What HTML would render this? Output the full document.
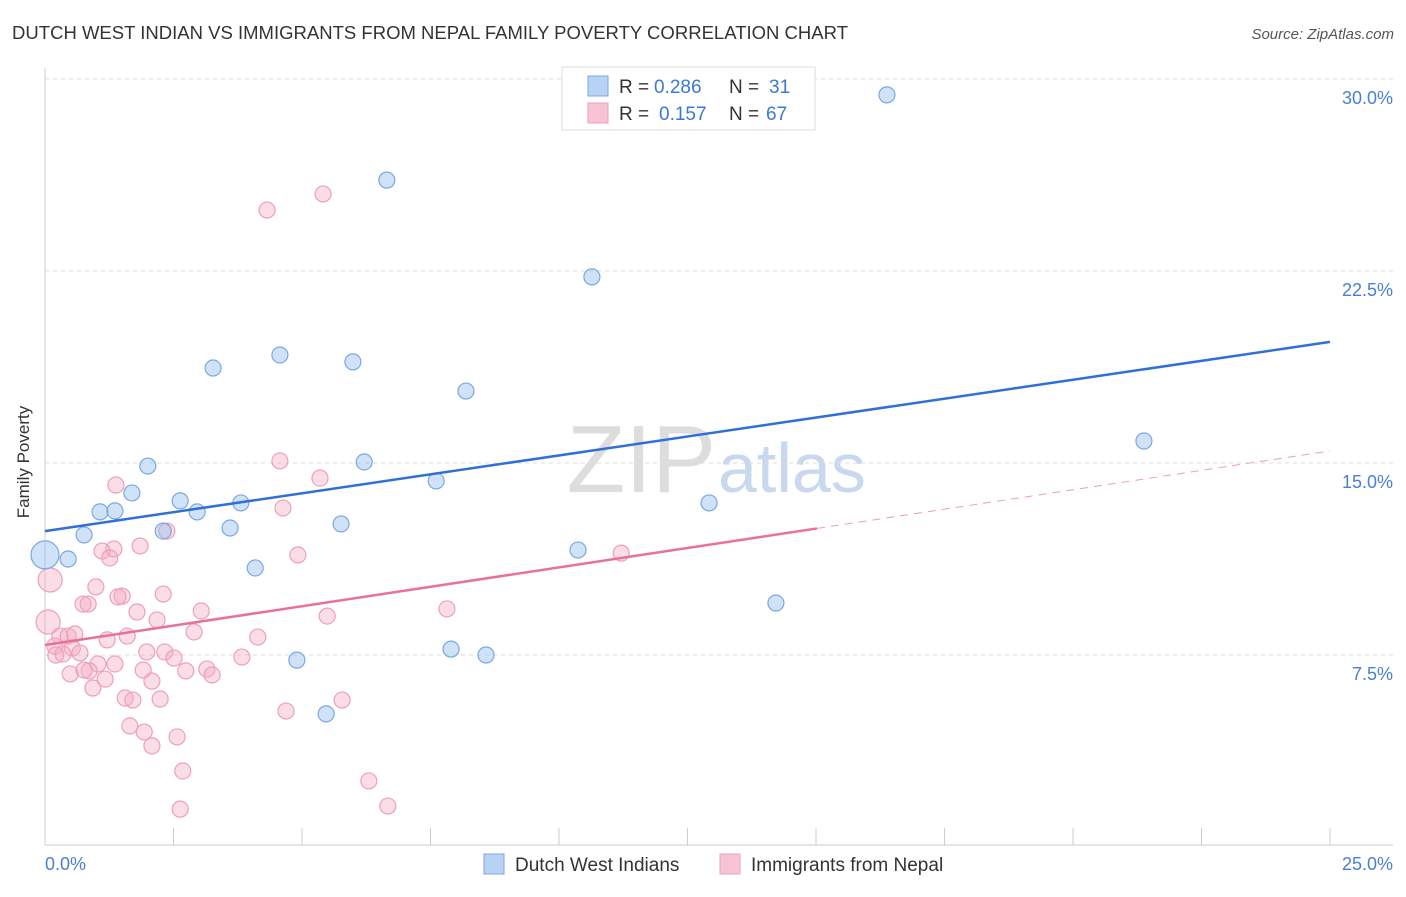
<!DOCTYPE html>
<html><head><meta charset="utf-8"><style>
body{margin:0;background:#fff;font-family:"Liberation Sans",sans-serif;}
svg text{font-family:"Liberation Sans",sans-serif;}
</style></head><body>
<svg id="c" width="1406" height="892" xmlns="http://www.w3.org/2000/svg">
<text x="12" y="39" font-size="18.5" fill="#333" textLength="836">DUTCH WEST INDIAN VS IMMIGRANTS FROM NEPAL FAMILY POVERTY CORRELATION CHART</text>
<text x="1394" y="39" font-size="15" fill="#555" font-style="italic" text-anchor="end">Source: ZipAtlas.com</text>
<text x="24" y="457" font-size="17" fill="#333" text-anchor="middle" transform="rotate(-90 29 457)">Family Poverty</text>
<text x="716" y="492" font-size="96" fill="#ddd" text-anchor="end" font-family="Liberation Serif">ZIP</text>
<text x="718" y="492" font-size="70" fill="#c8d8ee">atlas</text>
<g id="grid"></g><g id="axes"></g><g id="pts"></g><g id="lines"></g>
<g>
<rect x="562" y="67" width="253" height="63" fill="#fff" stroke="#ddd"/>
<rect x="588" y="76" width="20" height="20" fill="#b8d3f3" stroke="#7aa8e0"/>
<rect x="588" y="103" width="20" height="20" fill="#f8c4d5" stroke="#eda0b8"/>
<text x="619" y="93" font-size="19" fill="#333">R =</text>
<text x="654" y="93" font-size="19" fill="#3a78d8">0.286</text>
<text x="729" y="93" font-size="19" fill="#333">N =</text>
<text x="769" y="93" font-size="19" fill="#3a78d8">31</text>
<text x="619" y="120" font-size="19" fill="#333">R =</text>
<text x="659" y="120" font-size="19" fill="#3a78d8">0.157</text>
<text x="729" y="120" font-size="19" fill="#333">N =</text>
<text x="766" y="120" font-size="19" fill="#3a78d8">67</text>
</g>
<g>
<rect x="484" y="854" width="20" height="20" fill="#b8d3f3" stroke="#7aa8e0"/>
<text x="515" y="871" font-size="19" fill="#333">Dutch West Indians</text>
<rect x="720" y="854" width="20" height="20" fill="#f8c4d5" stroke="#eda0b8"/>
<text x="751" y="871" font-size="19" fill="#333">Immigrants from Nepal</text>
</g>
</svg>
<script>
const yTicks=[7.5,15,22.5,30];
const yTickLabels=["7.5%","15.0%","22.5%","30.0%"];
const xTickLabels=["0.0%","25.0%"];
const blueX=[16.38,6.65,10.64,4.57,3.27,5.99,8.19,21.38,2.00,6.21,7.61,1.69,2.63,3.81,1.07,1.36,2.96,12.92,5.76,3.60,2.30,0.76,0.45,0,10.37,4.09,14.22,7.90,8.58,4.90,5.47];
const blueY=[29.38,26.05,22.27,19.22,18.71,18.95,17.81,15.86,14.88,15.04,14.30,13.83,13.52,13.44,13.09,13.13,13.09,13.44,12.62,12.46,12.34,12.19,11.25,11.41,11.60,10.90,9.53,7.73,7.50,7.30,5.20];
const pinkX=[5.41,4.32,4.57,1.38,5.35,4.63,2.37,1.85,1.34,1.11,1.26,4.92,11.21,0.10,0.99,2.30,1.50,1.42,0.74,0.84,1.79,3.04,2.18,5.49,7.82,0.06,2.90,1.60,1.21,4.14,0.29,0.45,0.58,0.19,0.53,0.68,0.35,1.98,2.33,2.51,3.83,1.03,2.74,3.15,3.25,1.91,0.86,0.49,1.17,2.08,0.93,1.56,1.71,2.24,5.78,4.69,1.65,1.93,2.57,2.08,2.68,6.30,2.63,6.67,0.76,1.36,0.21];
const pinkY=[25.51,24.88,15.08,14.14,14.41,13.24,12.34,11.76,11.64,11.56,11.29,11.41,11.48,10.43,10.16,9.88,9.80,9.77,9.49,9.49,9.18,9.22,8.87,9.02,9.30,8.79,8.40,8.24,8.09,8.20,8.24,8.24,8.32,7.85,7.77,7.58,7.54,7.62,7.62,7.38,7.42,7.15,6.88,6.95,6.72,6.91,6.88,6.76,6.56,6.48,6.21,5.82,5.74,5.78,5.74,5.31,4.73,4.49,4.30,3.95,2.97,2.58,1.48,1.60,6.91,7.15,7.50];
const blueTrend=[12.34,19.73];
const pinkTrend=[7.89,15.47];
const pinkSolidEnd=15.02;
const NS="http://www.w3.org/2000/svg";
const X=v=>45+v/25*1285, Y=v=>847-v/7.5*192;
function mk(t,a,p){const e=document.createElementNS(NS,t);for(const k in a)e.setAttribute(k,a[k]);document.getElementById(p).appendChild(e);return e;}
yTicks.forEach((t,i)=>{
 const g=mk('line',{x1:45,x2:1393,y1:Y(t),y2:Y(t),stroke:'#ddd','stroke-dasharray':'4,4'},'grid');
 
 
 const l=mk('text',{x:1393,y:Y(t)+25,'font-size':18,fill:'#4a7fd4','text-anchor':'end'},'grid');
 l.textContent=yTickLabels[i];
 
 
});
let a=mk('line',{x1:45,x2:45,y1:68,y2:845,stroke:'#ccc'},'axes');


a=mk('line',{x1:45,x2:1393,y1:845,y2:845,stroke:'#ccc'},'axes');


for(let i=0;i<=10;i++){const t=mk('line',{x1:X(i*2.5),x2:X(i*2.5),y1:828,y2:845,stroke:'#ccc'},'axes');
 
 }
[[0,'start',45],[1,'end',1393]].forEach(([i,an,x])=>{const t=mk('text',{x:x,y:870,'font-size':18,fill:'#4a7fd4','text-anchor':an},'axes');t.textContent=xTickLabels[i];
 
 });
pinkX.forEach((v,i)=>{const r=(v<0.15)?12:8;const c=mk('circle',{cx:X(v),cy:Y(pinkY[i]),r:r,fill:'rgba(245,170,195,0.4)',stroke:'#eda0b8','stroke-width':1.2},'pts');
 
 });
blueX.forEach((v,i)=>{const r=(v===0)?14:8;const c=mk('circle',{cx:X(v),cy:Y(blueY[i]),r:r,fill:'rgba(150,190,238,0.45)',stroke:'#7aa8e0','stroke-width':1.2},'pts');
 
 });
let l=mk('line',{x1:X(0),y1:Y(blueTrend[0]),x2:X(25),y2:Y(blueTrend[1]),stroke:'#2f6fd6','stroke-width':2.5},'lines');


const pm=pinkTrend[0]+(pinkTrend[1]-pinkTrend[0])*pinkSolidEnd/25;
l=mk('line',{x1:X(0),y1:Y(pinkTrend[0]),x2:X(pinkSolidEnd),y2:Y(pm),stroke:'#e8709a','stroke-width':2.5},'lines');


l=mk('line',{x1:X(pinkSolidEnd),y1:Y(pm),x2:X(25),y2:Y(pinkTrend[1]),stroke:'#e8a0b8','stroke-width':1,'stroke-dasharray':'8,6'},'lines');


</script>
</body></html>
